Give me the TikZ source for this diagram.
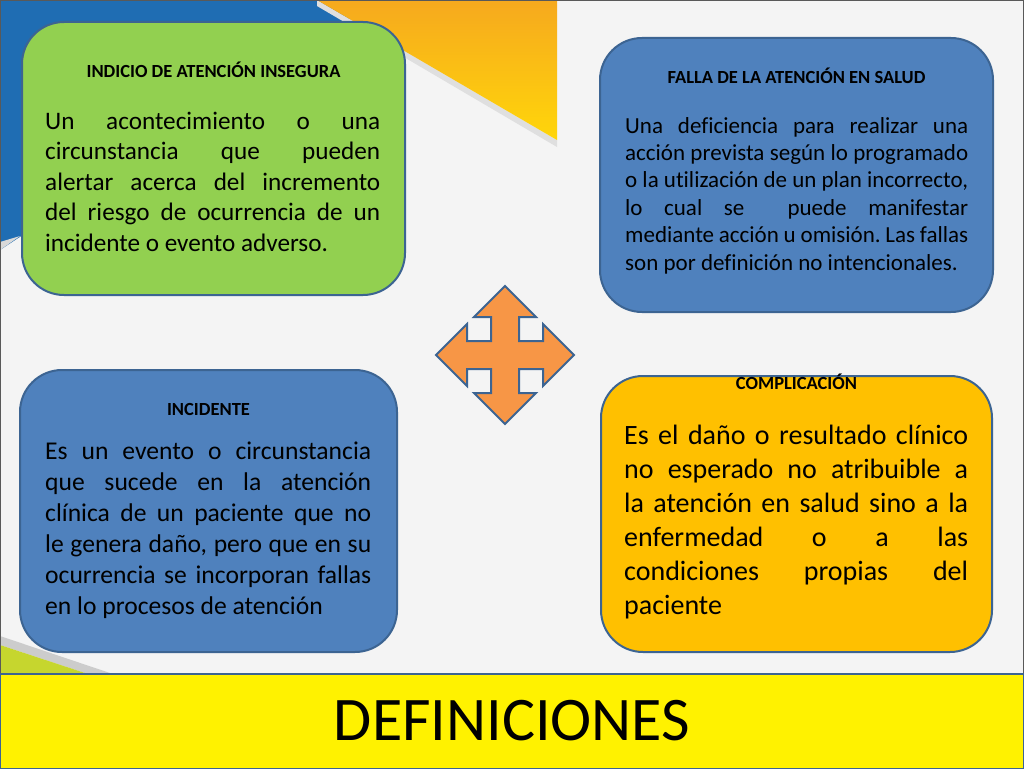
\documentclass[tikz,border=0pt]{standalone}
\usepackage{fontspec}
\setmainfont{Carlito}[Ligatures=CommonOff]
\usepackage{tikz}
\usetikzlibrary{positioning,calc}
\frenchspacing
\hyphenpenalty=10000
\exhyphenpenalty=10000
\definecolor{slideblue}{HTML}{1F6DB3}
\definecolor{slideorange}{HTML}{F6A91E}
\definecolor{slideyellow}{HTML}{FFD60A}
\definecolor{slidelime}{HTML}{C6D62E}
\definecolor{edgeblue}{HTML}{3C6492}
\definecolor{boxgreen}{HTML}{92D050}
\definecolor{boxblue}{HTML}{4F81BD}
\definecolor{boxgold}{HTML}{FFC000}
\definecolor{arroworange}{HTML}{F79646}
\tikzset{
    defbox/.style={
        rectangle,
        rounded corners=42pt,
        draw=edgeblue, line width=2pt,
        inner sep=0pt
    },
    deftitle/.style={
        font=\fontsize{18.5}{20}\selectfont\bfseries,
        inner sep=0pt
    },
    defbody/.style={
        align=justify,
        inner sep=0pt,
        anchor=base west
    },
    banner/.style={
        rectangle,
        fill=yellow, draw=edgeblue, line width=2pt,
        minimum width=1024pt, minimum height=95pt,
        font=\fontsize{62}{70}\selectfont
    }
}

\begin{document}
\begin{tikzpicture}[x=1pt, y=-1pt,
            quad arrow/.style={
                fill=arroworange,
                draw=edgeblue,
                line width=2pt,
                line join=miter
            },
            node distance=10pt and 10pt]
    % background of the slide
    \useasboundingbox (0,0) rectangle (1024,768);
    \fill[gray!9] (0,0) rectangle (1024,768);
    \fill[slideblue] (0,0) -- (380,0) -- (0,250) -- cycle;
    \fill[gray!30] (0,250) -- (20,236) -- (0,242) -- cycle;
    \fill[gray!25] (317,0) -- (557,140) -- (557,147) -- (317,6) -- cycle;
    \shade[top color=slideorange, bottom color=slideyellow]
        (317,0) -- (557,0) -- (557,140) -- cycle;
    \fill[gray!40] (0,636) -- (110,673) -- (85,673) -- (0,645) -- cycle;
    \fill[slidelime] (0,645) -- (85,673) -- (0,673) -- cycle;
    \draw[gray!70!black, line width=1.5pt] (0,0) rectangle (1024,768);

    % the four definitions
    \node[defbox, fill=boxgreen, minimum width=383pt, minimum height=273pt]
        (indicio) at (213.5,158.5) {};
    \node[deftitle, below=49pt of indicio.north, anchor=center] (indicio title)
        {INDICIO DE ATENCIÓN INSEGURA};
    \node[defbody, text width=335pt, font=\fontsize{25.2}{30.5}\selectfont]
        (indicio text) at (45,129)
        {Un acontecimiento o una\linebreak
         circunstancia que pueden\linebreak
         alertar acerca del incremento\linebreak
         del riesgo de ocurrencia de un\linebreak
         incidente o evento adverso.};

    \node[defbox, fill=boxblue, minimum width=393pt, minimum height=274pt]
        (falla) at (796.5,175) {};
    \node[deftitle, below=39pt of falla.north, anchor=center] (falla title)
        {FALLA DE LA ATENCIÓN EN SALUD};
    \node[defbody, text width=343pt, font=\fontsize{23}{27.4}\selectfont]
        (falla text) at (625,133)
        {Una deficiencia para realizar una\linebreak
         acción prevista según lo programado\linebreak
         o la utilización de un plan incorrecto,\linebreak
         lo cual se \ puede manifestar\linebreak
         mediante acción u omisión. Las fallas\linebreak
         son por definición no intencionales.};

    \node[defbox, fill=boxblue, minimum width=377pt, minimum height=282pt]
        (incidente) at (208.5,511) {};
    \node[deftitle, below=40pt of incidente.north, anchor=center] (incidente title)
        {INCIDENTE};
    \node[defbody, text width=326pt, font=\fontsize{25.6}{31}\selectfont]
        (incidente text) at (45,459)
        {Es un evento o circunstancia\linebreak
         que sucede en la atención\linebreak
         clínica de un paciente que no\linebreak
         le genera daño, pero que en su\linebreak
         ocurrencia se incorporan fallas\linebreak
         en lo procesos de atención};

    \node[defbox, fill=boxgold, minimum width=391pt, minimum height=276pt]
        (complicacion) at (796.5,514) {};
    \node[deftitle, below=7pt of complicacion.north, anchor=center] (complicacion title)
        {COMPLICACIÓN};
    \node[defbody, text width=344pt, font=\fontsize{28}{34}\selectfont]
        (complicacion text) at (624,444)
        {Es el daño o resultado clínico\linebreak
         no esperado no atribuible a\linebreak
         la atención en salud sino a la\linebreak
         enfermedad o a las\linebreak
         condiciones propias del\linebreak
         paciente};

    % the arrow in the middle
    \draw[quad arrow] (505,355) ++(0,-69)
        -- ++(31,31) -- ++(-17,0) -- ++(0,24) -- ++(24,0) -- ++(0,-17)
        -- ++(31,31) -- ++(-31,31) -- ++(0,-17) -- ++(-24,0) -- ++(0,24)
        -- ++(17,0) -- ++(-31,31) -- ++(-31,-31) -- ++(17,0) -- ++(0,-24)
        -- ++(-24,0) -- ++(0,17) -- ++(-31,-31) -- ++(31,-31) -- ++(0,17)
        -- ++(24,0) -- ++(0,-24) -- ++(-17,0) -- cycle;

    % title banner
    \node[banner] (definiciones) at (512,721) {DEFINICIONES};
\end{tikzpicture}
\end{document}
